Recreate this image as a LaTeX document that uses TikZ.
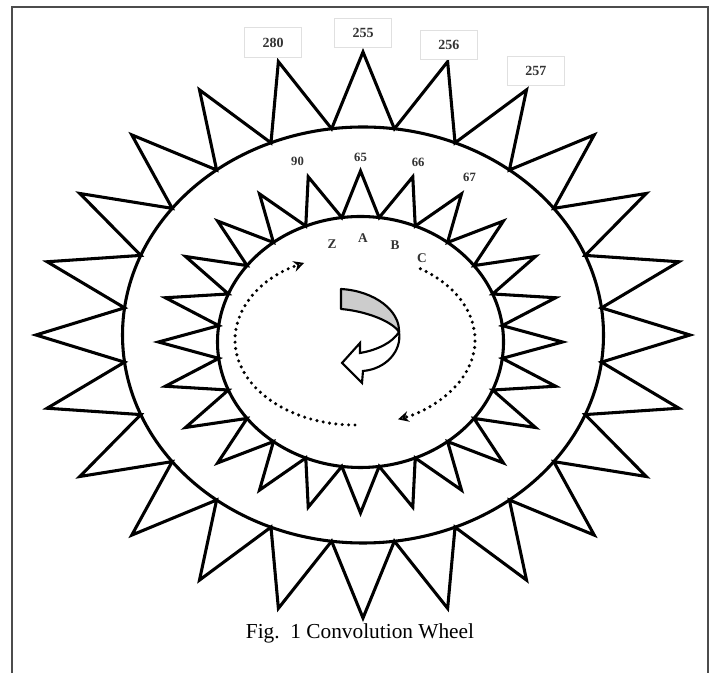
\documentclass[tikz,border=0pt]{standalone}
\usepackage{fontspec}
\setmainfont{Liberation Serif}
\usepackage{tikz}
\usetikzlibrary{arrows.meta,positioning}

\begin{document}
\begin{tikzpicture}
          [x=0.75pt,y=0.75pt,semithick]
          \tikzstyle{spikes}=[draw=black,fill=white,line width=2.3pt,line join=miter]
          \tikzstyle{rim}=[draw=black,line width=2.3pt]
          \tikzstyle{numbox}=[draw=black!12,fill=white,minimum width=43pt,minimum height=22pt,inner sep=0pt,font=\fontsize{10.5}{12}\selectfont\bfseries,text=black!80]
          \tikzstyle{num}=[inner sep=1pt,font=\fontsize{9.5}{11}\selectfont\bfseries,text=black!80]
          \tikzstyle{letter}=[inner sep=1pt,font=\fontsize{10}{11}\selectfont\bfseries,text=black!80]
          \tikzstyle{dotarc}=[line width=2.6pt,line cap=round,dash pattern=on 0pt off 4.8pt,-{Stealth[open,length=8pt,width=8pt,line width=1.3pt]}]

          \useasboundingbox (0,0) rectangle (712,673);
          \draw[black!70,line width=1.5pt] (12,0) -- (12,666) -- (708,666) -- (708,0);

          % outer ring
          \begin{scope}[shift={(363,338)}]
            \draw[spikes] (-7.5:240.5 and 208)
              \foreach \k in {0,...,23} { -- (15*\k:327 and 283) coordinate (o\k) -- (15*\k+7.5:240.5 and 208) } -- cycle;
            \draw[rim] (0,0) ellipse (240.5 and 208);
          \end{scope}

          % inner ring
          \begin{scope}[shift={(360.5,331)}]
            \draw[spikes] (-7.5:143 and 125.5)
              \foreach \k in {0,...,23} { -- (15*\k:202 and 171) coordinate (i\k) -- (15*\k+7.5:143 and 125.5) } -- cycle;
            \draw[rim] (0,0) ellipse (143 and 125.5);
          \end{scope}

          \node[numbox] (n255) [above=3pt of o6] {255};
          \node[numbox] (n280) [above=3pt of o7,xshift=-4pt] {280};
          \node[numbox] (n256) [above=1pt of o5,xshift=1pt] {256};
          \node[numbox] (n257) [above=3pt of o4,xshift=7pt] {257};

          \node[num] (n65) [above=6pt of i6] {65};
          \node[num] (n90) [above=7pt of i7,xshift=-8pt] {90};
          \node[num] (n66) [above=6.5pt of i5,xshift=4pt] {66};
          \node[num] (n67) [above=8pt of i4,xshift=6pt] {67};

          \node[letter] (lz) at (332,429) {Z};
          \node[letter] (la) at (363,435) {A};
          \node[letter] (lb) at (395,428) {B};
          \node[letter] (lc) at (422,415) {C};

          % dotted turns
          \coordinate (dc) at (355,333);
          \draw[dotarc] (dc) ++(270:120 and 85) arc[start angle=270,end angle=115,x radius=120,y radius=85];
          \draw[dotarc] (dc) ++(57:120 and 85) arc[start angle=57,end angle=-69,x radius=120,y radius=85];

          % curved arrow in the middle
          \draw[fill=black!20,line width=1.6pt,line join=round] (341,384) -- (341,364)
            .. controls (365,362) and (392,352) .. (399,341)
            .. controls (400,362) and (375,382) .. (341,384) -- cycle;
          \draw[fill=white,line width=1.6pt,line join=miter] (399,341)
            .. controls (402,322) and (386,304) .. (363,302) -- (362,290) -- (342,310) -- (360,330) -- (360,320)
            .. controls (378,323) and (393,331) .. (399,341) -- cycle;

          \node (cap) at (360,40) {\fontsize{16}{18}\selectfont Fig.\ \ 1 Convolution Wheel};
\end{tikzpicture}
\end{document}
